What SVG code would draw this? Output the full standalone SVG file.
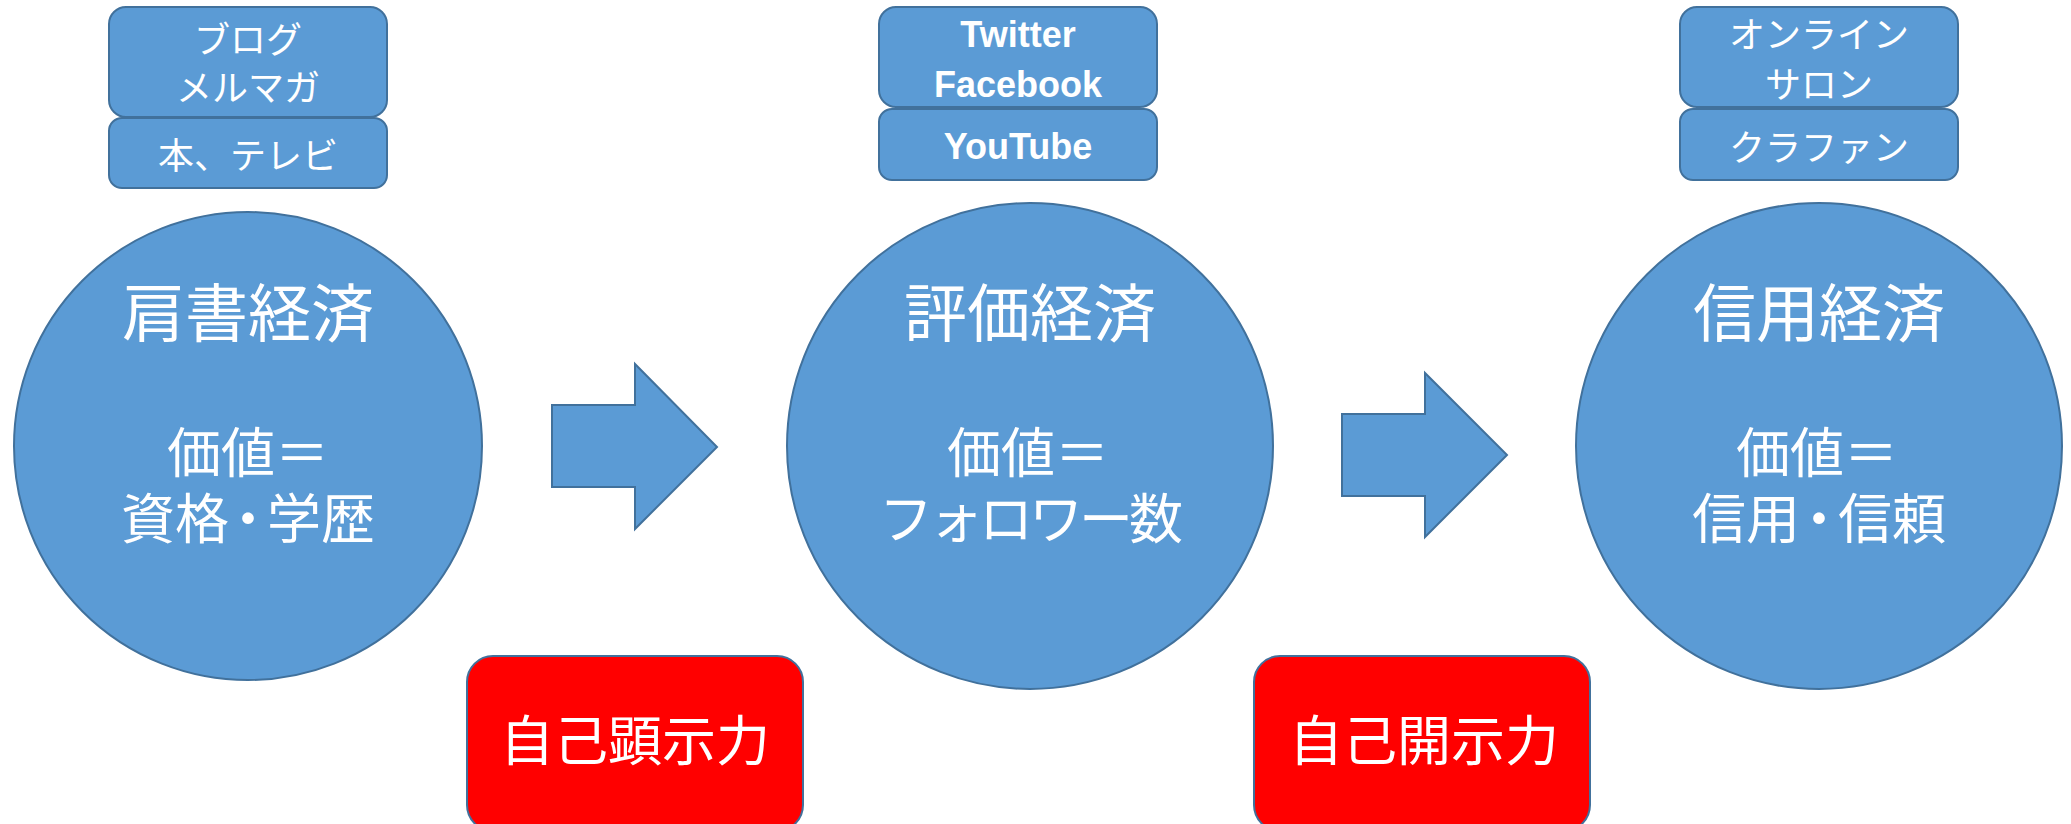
<svg xmlns="http://www.w3.org/2000/svg" width="2071" height="824" viewBox="0 0 2071 824">
<style>
.blue{fill:#5B9BD5;stroke:#41719C;stroke-width:2}
.red{fill:#FF0000;stroke:#41719C;stroke-width:2}
.t{fill:#FFFFFF;font-family:"Noto Sans CJK JP","Noto Sans",sans-serif;text-anchor:middle}
.s{font-size:36px}
.b{font-family:"Liberation Sans","Noto Sans",sans-serif;font-weight:bold;font-size:36px}
.h{font-size:63px}
.m{font-size:54px}
</style>
<rect width="2071" height="824" fill="#FFFFFF"/>
<g id="media1">
<rect class="blue" x="109" y="7" width="278" height="110" rx="17"/>
<text class="t s" x="248" y="53">ブログ<tspan x="248" dy="48">メルマガ</tspan></text>
</g>
<g id="media1b">
<rect class="blue" x="109" y="118" width="278" height="70" rx="13"/>
<text class="t s" x="248" y="169">本、テレビ</text>
</g>
<g id="media2">
<rect class="blue" x="879" y="7" width="278" height="100" rx="17"/>
<text class="t b" x="1018" y="47">Twitter<tspan x="1018" dy="50">Facebook</tspan></text>
</g>
<g id="media2b">
<rect class="blue" x="879" y="109" width="278" height="71" rx="13"/>
<text class="t b" x="1018" y="159">YouTube</text>
</g>
<g id="media3">
<rect class="blue" x="1680" y="7" width="278" height="100" rx="17"/>
<text class="t s" x="1819" y="48">オンライン<tspan x="1819" dy="50">サロン</tspan></text>
</g>
<g id="media3b">
<rect class="blue" x="1680" y="109" width="278" height="71" rx="13"/>
<text class="t s" x="1819" y="161">クラファン</text>
</g>
<g id="circle1">
<circle class="blue" cx="248" cy="446" r="234"/>
<text class="t h" x="248" y="336">肩書経済</text>
<text class="t m" x="248" y="473">価値＝<tspan x="248" dy="66">資格</tspan><tspan dx="-8">・</tspan><tspan dx="-8">学歴</tspan></text>
</g>
<g id="circle2">
<circle class="blue" cx="1030" cy="446" r="243"/>
<text class="t h" x="1030" y="336">評価経済</text>
<text class="t m" x="1028" y="473">価値＝<tspan x="1029" dy="66" letter-spacing="-4">フォロワー数</tspan></text>
</g>
<g id="circle3">
<circle class="blue" cx="1819" cy="446" r="243"/>
<text class="t h" x="1819" y="336">信用経済</text>
<text class="t m" x="1817" y="473">価値＝<tspan x="1819" dy="66">信用</tspan><tspan dx="-8">・</tspan><tspan dx="-8">信頼</tspan></text>
</g>
<g id="connectors">
<path class="blue" d="M552 405 H635 V364 L717 447 L635 529 V487 H552 Z"/>
<path class="blue" d="M1342 414 H1425 V373 L1507 455 L1425 537 V496 H1342 Z"/>
</g>
<g id="skill1">
<rect class="red" x="467" y="656" width="336" height="175" rx="26"/>
<text class="t m" x="635" y="761">自己顕示力</text>
</g>
<g id="skill2">
<rect class="red" x="1254" y="656" width="336" height="175" rx="26"/>
<text class="t m" x="1424" y="761">自己開示力</text>
</g>
</svg>
